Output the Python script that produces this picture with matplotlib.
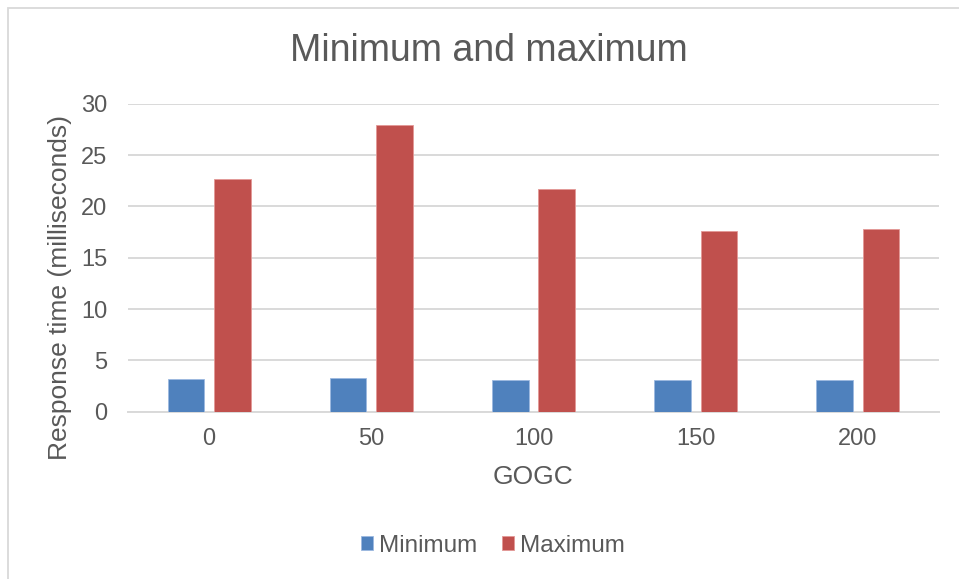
import matplotlib.pyplot as plt
import numpy as np
from matplotlib.patches import Rectangle

plt.rcParams['font.family'] = ['Liberation Sans', 'DejaVu Sans']

gogc = ['0', '50', '100', '150', '200']
minimum = [3.16, 3.25, 3.09, 3.06, 3.09]
maximum = [22.66, 27.92, 21.65, 17.6, 17.76]

blue = '#4f81bd'
red = '#c0504d'
grey = '#595959'
grid = '#d9d9d9'

fig = plt.figure(figsize=(9.59, 5.79), dpi=100)
ax = fig.add_axes([128/959, 1-411.7/579, (939-128)/959, (411.7-103.7)/579])

# chart frame
fig.patches.append(Rectangle((8/959, -0.1), 1.2, 1 - 8/579 + 0.1,
                             transform=fig.transFigure, fill=False,
                             edgecolor=grid, linewidth=1.3))

x = np.arange(len(gogc))
w = 0.225
off = 0.143
ax.bar(x - off, minimum, w, color=blue, edgecolor='#9cb9e0', linewidth=0.6,
       label='Minimum', zorder=3)
ax.bar(x + off, maximum, w, color=red, edgecolor='#e39896', linewidth=0.6,
       label='Maximum', zorder=3)

ax.set_xlim(-0.5, len(gogc) - 0.5)
ax.set_ylim(0, 30)
ax.set_yticks(range(0, 31, 5))
ax.set_xticks(x)
ax.set_xticklabels(gogc)
ax.yaxis.grid(True, color=grid, linewidth=1.4, zorder=0)
for s in ['top', 'right', 'left']:
    ax.spines[s].set_visible(False)
ax.spines['bottom'].set_color(grid)
ax.spines['bottom'].set_linewidth(1.4)
ax.tick_params(length=0, labelsize=17, colors=grey)
ax.tick_params(axis='y', pad=15)
ax.tick_params(axis='x', pad=12)

ax.set_xlabel('GOGC', fontsize=19, color=grey, va='center')
ax.xaxis.set_label_coords(0.5, -(477 - 411.7) / 308)
ax.set_ylabel('Response time (milliseconds)', fontsize=19, color=grey, va='center')
ax.yaxis.set_label_coords((60 - 128) / 811, 1 - (287 - 103.7) / 308)
fig.text(488.5/959, 1 - 51/579, 'Minimum and maximum', ha='center', va='center',
         fontsize=27, color=grey)

leg = fig.legend(loc='center', bbox_to_anchor=(0.514, 1 - 546/579), ncol=2,
                 frameon=False, fontsize=17.5, handlelength=0.5, handleheight=0.5,
                 handletextpad=0.25, columnspacing=1.0)
for t in leg.get_texts():
    t.set_color(grey)

fig.savefig('out.png', dpi=100)
